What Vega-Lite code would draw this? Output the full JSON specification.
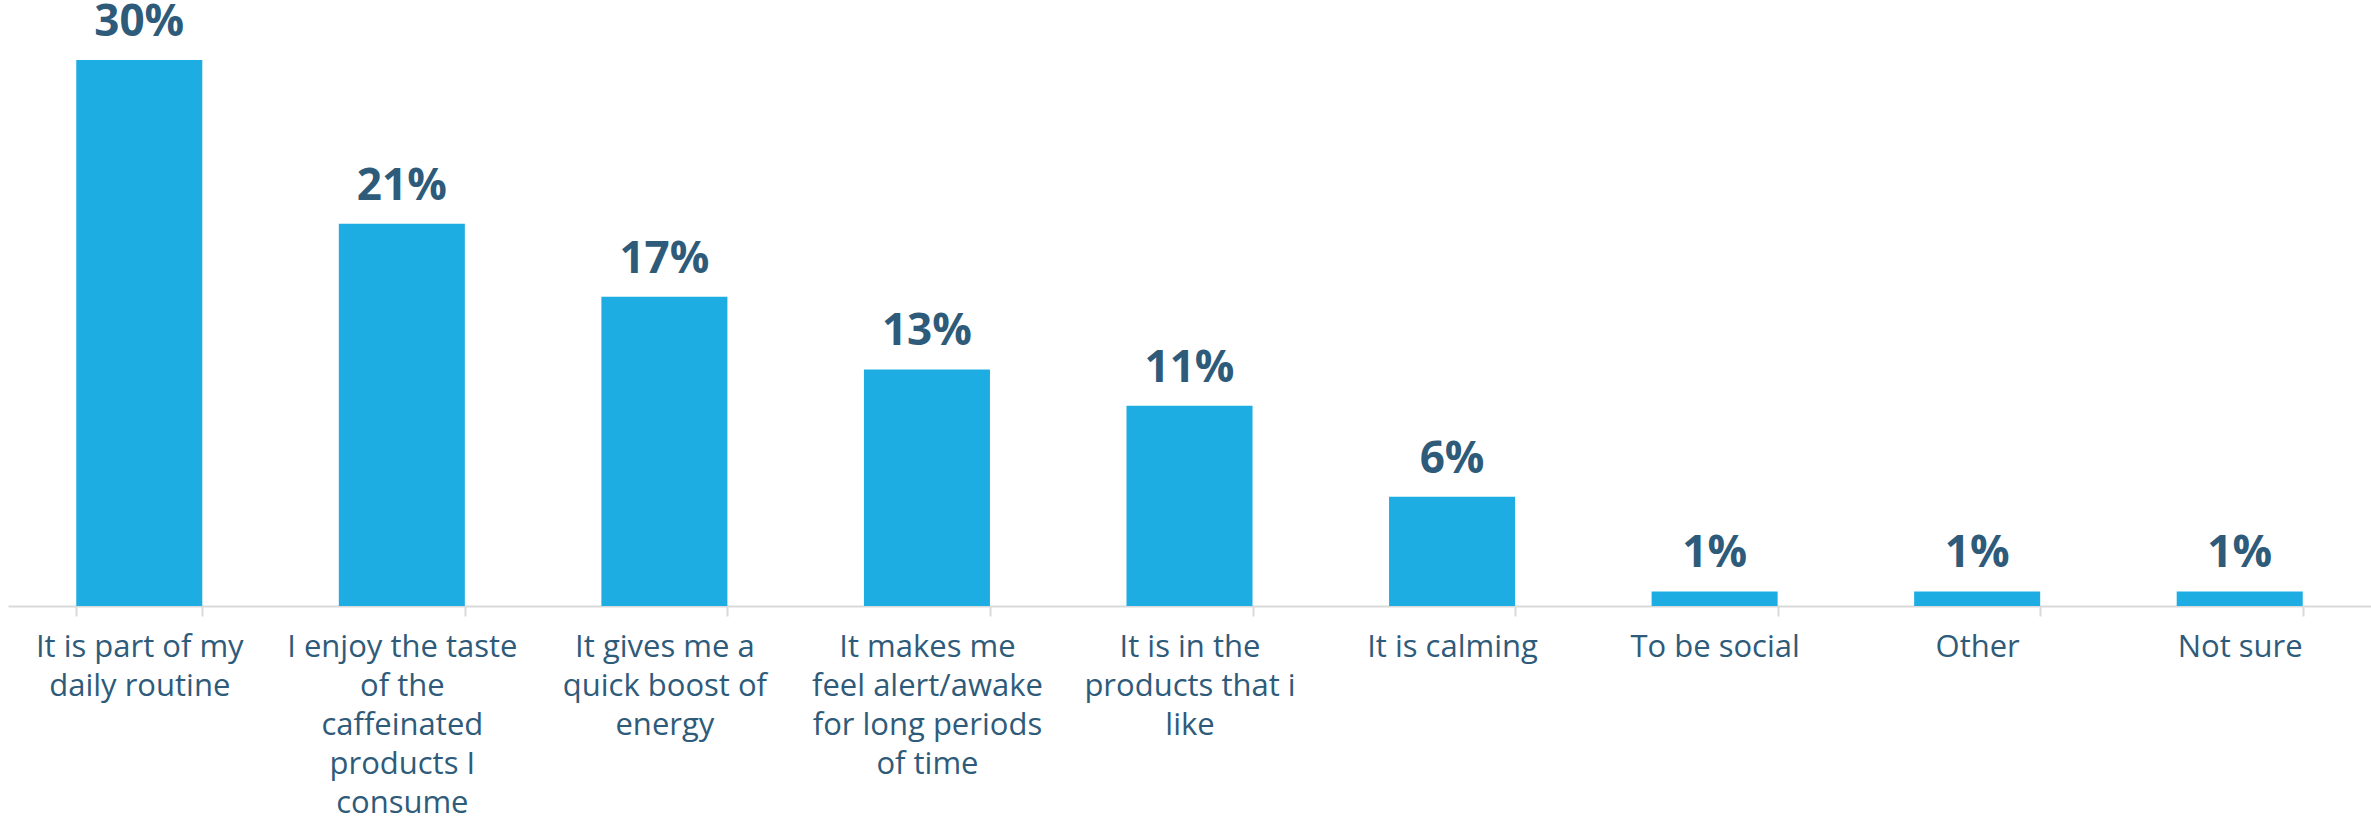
{
  "$schema": "https://vega.github.io/schema/vega-lite/v6.json",
  "width": 2363,
  "height": 606,
  "autosize": "none",
  "padding": {"left": 8, "top": 0, "right": 0, "bottom": 216},
  "background": "white",
  "config": {"view": {"stroke": null}, "font": "Open Sans"},
  "data": {"values": [
    {"reason": "It is part of my|daily routine", "share": 0.30},
    {"reason": "I enjoy the taste|of the|caffeinated|products I|consume", "share": 0.21},
    {"reason": "It gives me a|quick boost of|energy", "share": 0.17},
    {"reason": "It makes me|feel alert/awake|for long periods|of time", "share": 0.13},
    {"reason": "It is in the|products that i|like", "share": 0.11},
    {"reason": "It is calming", "share": 0.06},
    {"reason": "To be social", "share": 0.008},
    {"reason": "Other", "share": 0.008},
    {"reason": "Not sure", "share": 0.008}
  ]},
  "encoding": {
    "x": {"field": "reason", "type": "nominal", "sort": null,
      "scale": {"paddingInner": 0.52, "paddingOuter": 0.26},
      "axis": {"title": null, "labelAngle": 0, "labelExpr": "split(datum.label, '|')",
        "labelFontSize": 31, "labelLineHeight": 39, "labelColor": "#2f5b7a",
        "labelPadding": 16, "labelBaseline": "top", "labelLimit": 0,
        "domainColor": "#d9d9d9", "domainWidth": 2, "tickColor": "#d9d9d9", "tickWidth": 2,
        "tickSize": 10, "tickBand": "extent"}},
    "y": {"field": "share", "type": "quantitative", "scale": {"domain": [0, 0.333], "nice": false}, "axis": null}
  },
  "layer": [
    {"mark": {"type": "bar", "color": "#1eade3"}},
    {"mark": {"type": "text", "baseline": "alphabetic", "dy": -24, "fontSize": 44, "fontWeight": "bold", "color": "#2f5b7a"},
     "encoding": {"text": {"field": "share", "type": "quantitative", "format": ".0%"}}}
  ]
}
